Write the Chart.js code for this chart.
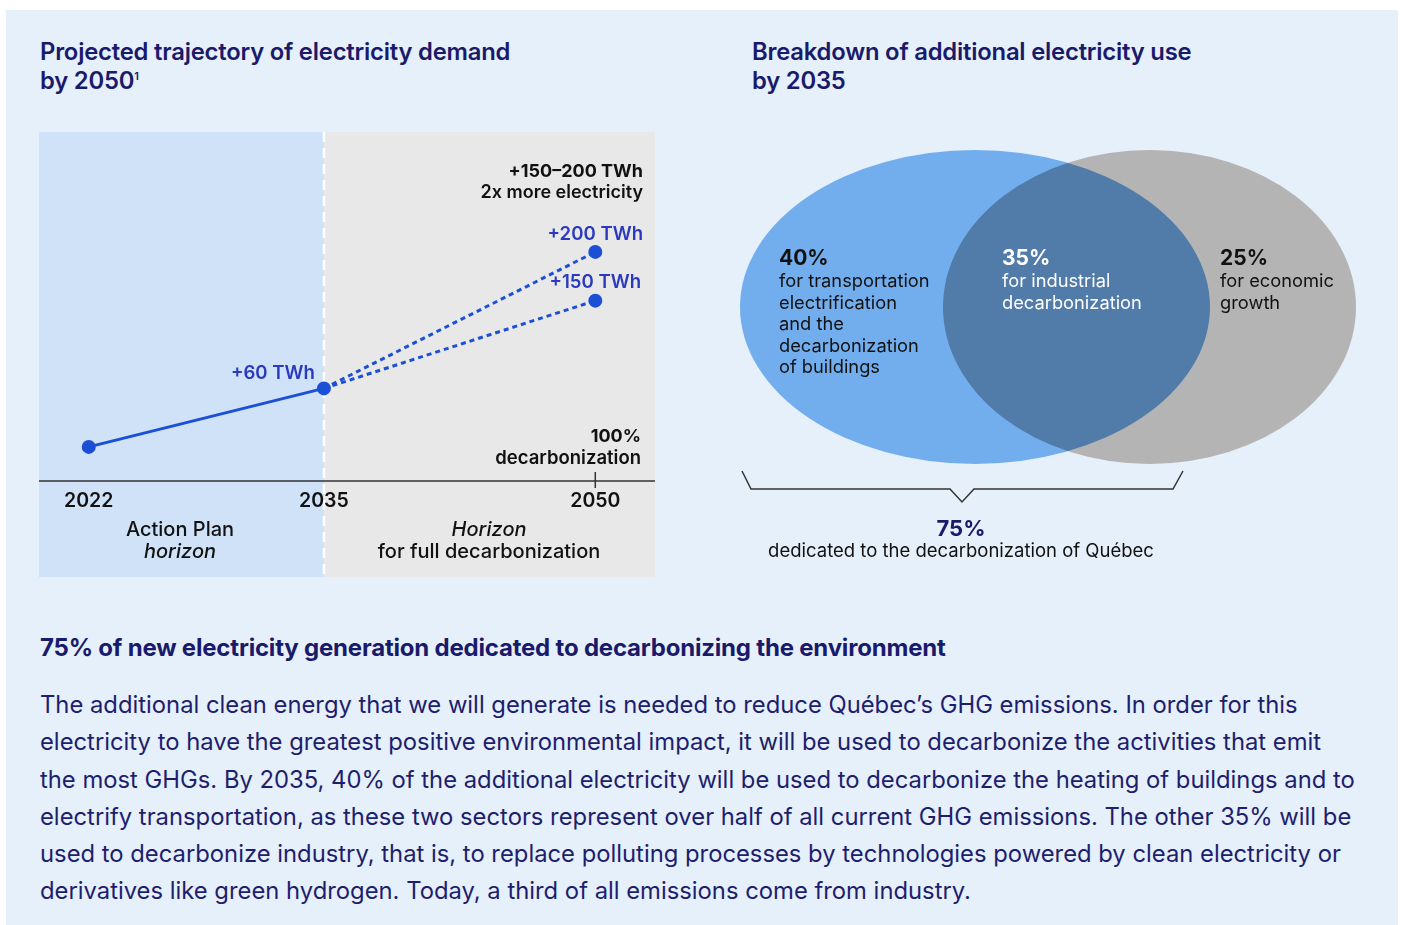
<!DOCTYPE html>
<html>
<head>
<meta charset="utf-8">
<script src="https://cdn.jsdelivr.net/npm/chart.js@4.4.1/dist/chart.umd.min.js"></script>
<style>
  body { margin: 0; background: #ffffff; font-family: Inter, "Noto Sans", sans-serif; }
  #panel { position: absolute; left: 6px; top: 10px; width: 1392px; height: 915px; background: #e6f0fa; }
  .title { position: absolute; color: #1a1a6b; font-size: 23.8px; font-weight: 600; line-height: 29px; letter-spacing: -0.2px; white-space: nowrap; }
  .title sup { font-size: 11px; line-height: 0; position: relative; top: -9px; vertical-align: baseline; }
  #subhead { position: absolute; left: 40px; top: 634px; color: #1a1a6b; font-size: 24px; font-weight: 700; line-height: 28px; white-space: nowrap; letter-spacing: -0.2px; }
  #body { position: absolute; left: 40px; top: 686px; color: #1e1e6e; font-size: 23.8px; line-height: 37.3px; white-space: nowrap; }
  canvas { position: absolute; }
</style>
</head>
<body>
<div id="panel"></div>
<div class="title" style="left:40px; top:37px;">Projected trajectory of electricity demand<br>by 2050<sup>1</sup></div>
<div class="title" style="left:752px; top:37px;">Breakdown of additional electricity use<br>by 2035</div>

<div style="position:absolute; left:39px; top:132px; width:616px; height:445px;">
  <canvas id="demandChart"></canvas>
</div>
<div style="position:absolute; left:730px; top:140px; width:660px; height:440px;">
  <canvas id="vennChart"></canvas>
</div>

<div id="subhead">75% of new electricity generation dedicated to decarbonizing the environment</div>
<div id="body">
The additional clean energy that we will generate is needed to reduce Québec’s GHG emissions. In order for this<br>
electricity to have the greatest positive environmental impact, it will be used to decarbonize the activities that emit<br>
the most GHGs. By 2035, 40% of the additional electricity will be used to decarbonize the heating of buildings and to<br>
electrify transportation, as these two sectors represent over half of all current GHG emissions. The other 35% will be<br>
used to decarbonize industry, that is, to replace polluting processes by technologies powered by clean electricity or<br>
derivatives like green hydrogen. Today, a third of all emissions come from industry.
</div>

<script>
const FONT = 'Inter, "Noto Sans", sans-serif';

// demand chart data (additional TWh compared with 2022)
const tickYears = [2022, 2035, 2050];
const actionPlanYears = [2022, 2035];
const actionPlanTWh = [0, 60];
const horizonYears = [2035, 2050];
const horizonHighTWh = [60, 200];
const horizonLowTWh = [60, 150];
const pointLabels = ["+60 TWh", "+200 TWh", "+150 TWh"];

// venn data
const vennShares = [40, 35, 25];
const vennTexts = [
    ["for transportation", "electrification", "and the", "decarbonization", "of buildings"],
    ["for industrial", "decarbonization"],
    ["for economic", "growth"]
];
const decarbShare = 75;

const lineBlue = "#1b4fd6";
const labelBlue = "#2a39bd";

function toPoints(xs, ys) {
    return xs.map((x, i) => ({ x: x, y: ys[i] }));
}

// backgrounds, dashed divider, 2050 tick and texts of the demand chart
const demandDecor = {
    id: "demandDecor",
    beforeDraw(chart) {
        const ctx = chart.ctx;
        const x = chart.scales.x;
        const split = x.getPixelForValue(2035);
        const h = chart.height;
        ctx.save();
        ctx.fillStyle = "#cfe2f8";
        ctx.fillRect(0, 0, split, h);
        ctx.fillStyle = "#e8e8e8";
        ctx.fillRect(split, 0, chart.width - split, h);
        ctx.strokeStyle = "#ffffff";
        ctx.lineWidth = 2.5;
        ctx.setLineDash([10, 6]);
        ctx.beginPath();
        ctx.moveTo(split, 0);
        ctx.lineTo(split, h);
        ctx.stroke();
        ctx.setLineDash([]);
        // axis line + tick at 2050
        const axisY = chart.chartArea.bottom;
        ctx.strokeStyle = "#333333";
        ctx.lineWidth = 1.5;
        ctx.beginPath();
        ctx.moveTo(0, axisY);
        ctx.lineTo(chart.width, axisY);
        const t = x.getPixelForValue(2050);
        ctx.moveTo(t, axisY - 9);
        ctx.lineTo(t, axisY + 7);
        ctx.stroke();
        ctx.restore();
    },
    afterDatasetsDraw(chart) {
        const ctx = chart.ctx;
        const x = chart.scales.x;
        const y = chart.scales.y;
        ctx.save();
        ctx.textBaseline = "middle";
        // point labels
        ctx.fillStyle = labelBlue;
        ctx.font = "600 18.6px " + FONT;
        ctx.textAlign = "right";
        ctx.fillText(pointLabels[0], x.getPixelForValue(2035) - 9, y.getPixelForValue(actionPlanTWh[1]) - 15);
        ctx.textAlign = "center";
        ctx.fillText(pointLabels[1], x.getPixelForValue(2050), y.getPixelForValue(horizonHighTWh[1]) - 18);
        ctx.fillText(pointLabels[2], x.getPixelForValue(2050), y.getPixelForValue(horizonLowTWh[1]) - 18);

        const right = chart.width - 12;
        ctx.fillStyle = "#111111";
        ctx.textAlign = "right";
        ctx.font = "700 18px " + FONT;
        ctx.fillText("+150–200 TWh", right, 40);
        ctx.font = "600 18px " + FONT;
        ctx.fillText("2x more electricity", right, 61);
        ctx.font = "700 18px " + FONT;
        ctx.fillText("100%", right - 2, 305);
        ctx.font = "600 18.5px " + FONT;
        ctx.fillText("decarbonization", right - 2, 326);

        // horizon captions
        ctx.textAlign = "center";
        ctx.font = "500 20px " + FONT;
        ctx.fillText("Action Plan", 141, 398);
        ctx.font = "italic 500 20px " + FONT;
        ctx.fillText("horizon", 141, 420);
        ctx.fillText("Horizon", 450, 398);
        ctx.font = "500 20px " + FONT;
        ctx.fillText("for full decarbonization", 450, 420);
        ctx.restore();
    }
};

new Chart(document.getElementById("demandChart"), {
    type: "scatter",
    data: {
        datasets: [
            {
                data: toPoints(actionPlanYears, actionPlanTWh),
                showLine: true,
                borderColor: lineBlue,
                backgroundColor: lineBlue,
                borderWidth: 3,
                pointRadius: 5.5
            },
            {
                data: toPoints(horizonYears, horizonHighTWh),
                showLine: true,
                borderColor: lineBlue,
                backgroundColor: lineBlue,
                borderWidth: 3,
                borderDash: [5, 4],
                pointRadius: [0, 5.5]
            },
            {
                data: toPoints(horizonYears, horizonLowTWh),
                showLine: true,
                borderColor: lineBlue,
                backgroundColor: lineBlue,
                borderWidth: 3,
                borderDash: [5, 4],
                pointRadius: [0, 5.5]
            }
        ]
    },
    options: {
        responsive: true,
        maintainAspectRatio: false,
        animation: false,
        layout: { padding: 0, autoPadding: false },
        plugins: { legend: { display: false }, tooltip: { enabled: false } },
        scales: {
            x: {
                type: "linear",
                min: 2019.25,
                max: 2053.3,
                afterBuildTicks: s => { s.ticks = tickYears.map(v => ({ value: v })); },
                afterFit: s => { s.height = 96; },
                grid: { display: false, drawTicks: false },
                border: { display: false },
                ticks: {
                    padding: 8,
                    color: "#111111",
                    font: { family: FONT, size: 19.5, weight: "600" },
                    callback: v => String(v)
                }
            },
            y: { display: false, min: -35, max: 323 }
        }
    },
    plugins: [demandDecor]
});

// venn layout, in canvas pixels
const vennLayout = {
    cy: 167, ry: 157,
    ellipses: [ { cx: 245, rx: 235, color: "#72aeee" }, { cx: 419.5, rx: 206.5, color: "#b4b4b4" } ],
    textX: [49, 272, 490],
    textColors: ["#111111", "#ffffff", "#111111"],
    textY: 119,
    bracket: [[12, 331], [21, 349], [220, 349], [232, 362], [244, 349], [443, 349], [453, 331]]
};

const vennDraw = {
    id: "vennDraw",
    afterDatasetsDraw(chart) {
        const ctx = chart.ctx;
        const L = vennLayout;
        ctx.save();
        // grey first, then blue multiplied on top gives the dark overlap
        ctx.fillStyle = L.ellipses[1].color;
        ctx.beginPath();
        ctx.ellipse(L.ellipses[1].cx, L.cy, L.ellipses[1].rx, L.ry, 0, 0, Math.PI * 2);
        ctx.fill();
        ctx.globalCompositeOperation = "multiply";
        ctx.fillStyle = L.ellipses[0].color;
        ctx.beginPath();
        ctx.ellipse(L.ellipses[0].cx, L.cy, L.ellipses[0].rx, L.ry, 0, 0, Math.PI * 2);
        ctx.fill();
        ctx.globalCompositeOperation = "source-over";

        ctx.textAlign = "left";
        ctx.textBaseline = "middle";
        vennShares.forEach((share, i) => {
            ctx.fillStyle = L.textColors[i];
            ctx.font = "700 21px " + FONT;
            ctx.fillText(share + "%", L.textX[i], L.textY);
            ctx.font = "400 18.3px " + FONT;
            vennTexts[i].forEach((line, j) => {
                ctx.fillText(line, L.textX[i], L.textY + 23 + j * 21.5);
            });
        });

        // bracket
        ctx.strokeStyle = "#333333";
        ctx.lineWidth = 1.5;
        ctx.beginPath();
        L.bracket.forEach((p, i) => i ? ctx.lineTo(p[0], p[1]) : ctx.moveTo(p[0], p[1]));
        ctx.stroke();

        ctx.textAlign = "center";
        ctx.fillStyle = "#1a1a6b";
        ctx.font = "700 22px " + FONT;
        ctx.fillText(decarbShare + "%", 231, 389);
        ctx.fillStyle = "#111111";
        ctx.font = "400 18.5px " + FONT;
        ctx.fillText("dedicated to the decarbonization of Québec", 231, 411);
        ctx.restore();
    }
};

new Chart(document.getElementById("vennChart"), {
    type: "scatter",
    data: { datasets: [{ data: [], pointRadius: 0 }] },
    options: {
        responsive: true,
        maintainAspectRatio: false,
        animation: false,
        layout: { padding: 0 },
        plugins: { legend: { display: false }, tooltip: { enabled: false } },
        scales: { x: { display: false }, y: { display: false } }
    },
    plugins: [vennDraw]
});
</script>
</body>
</html>
